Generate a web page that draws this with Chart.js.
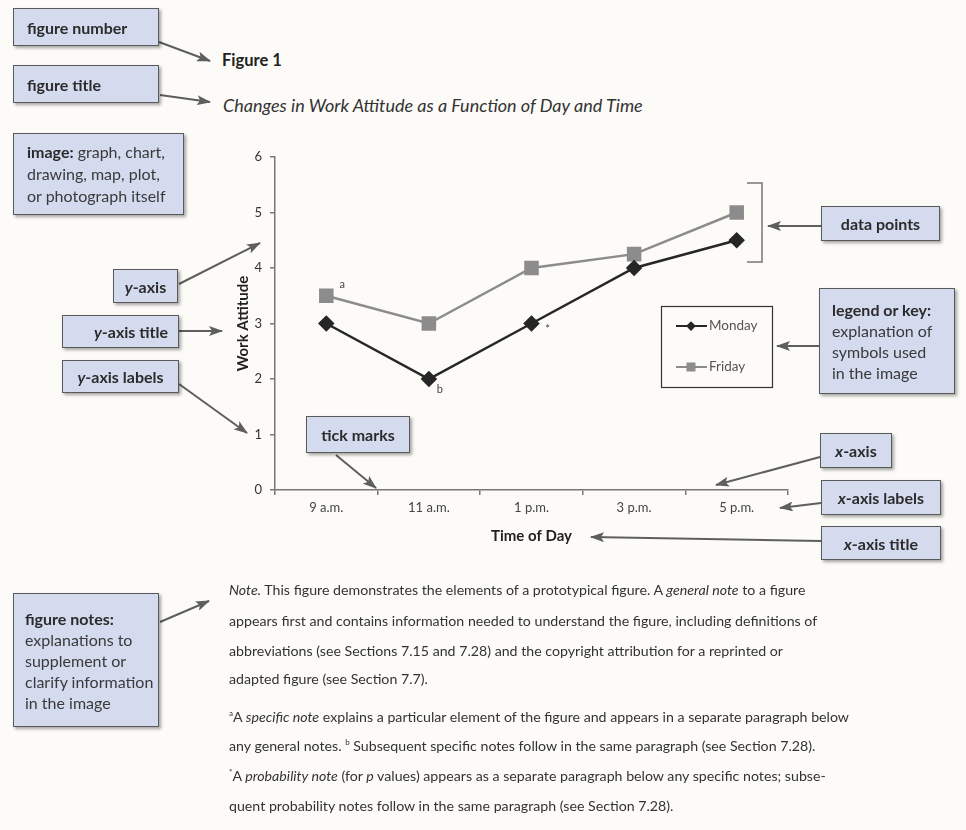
<!DOCTYPE html>
<html>
<head>
<meta charset="utf-8">
<script src="https://cdn.jsdelivr.net/npm/chart.js@4.4.1/dist/chart.umd.min.js"></script>
<style>
html, body { margin: 0; padding: 0; }
body {
    width: 966px; height: 830px; position: relative; overflow: hidden;
    background: #fcfbf7; font-family: Lato, "Open Sans", sans-serif; color: #333;
}
.box {
    position: absolute; box-sizing: border-box; background: #d4dbef;
    border: 1.5px solid #5a5a5a; box-shadow: 2px 2px 3px rgba(0,0,0,.35);
    font-size: 16px; line-height: 21px; padding: 0 8px 0 13px; color: #3a3a3a;
    display: flex; flex-direction: column; justify-content: center; white-space: nowrap;
}
.box b { font-weight: 700; color: #2b2b2b; }
.t { position: absolute; white-space: nowrap; }
#chartWrap { position: absolute; left: 200px; top: 140px; width: 600px; height: 420px; }
svg { position: absolute; left: 0; top: 0; }
.note { position: absolute; left: 229px; font-size: 14.2px; white-space: nowrap; color: #333; }
.note sup { font-size: 8px; }
</style>
</head>
<body>

<div class="t" style="left:222px;top:50px;font-size:16.5px;font-weight:700;color:#222;">Figure 1</div>
<div class="t" style="left:223px;top:94px;font-size:18px;font-style:italic;color:#333;">Changes in Work Attitude as a Function of Day and Time</div>

<div id="chartWrap"><canvas id="chart"></canvas></div>

<svg width="966" height="830">
  <defs>
    <marker id="ah" viewBox="0 0 14 10" refX="13" refY="5" markerWidth="14" markerHeight="10" markerUnits="userSpaceOnUse" orient="auto">
      <path d="M0,0 L14,5 L0,10 L3,5 Z" fill="#5e5e5e"/>
    </marker>
  </defs>
  <g stroke="#5e5e5e" stroke-width="2" fill="none" marker-end="url(#ah)">
    <line x1="159" y1="42" x2="210" y2="61"/>
    <line x1="160" y1="95" x2="210" y2="102"/>
    <line x1="179" y1="284" x2="260" y2="243"/>
    <line x1="179" y1="331" x2="222" y2="331"/>
    <line x1="179" y1="384" x2="247" y2="433"/>
    <line x1="336" y1="455" x2="376" y2="488"/>
    <line x1="160" y1="622" x2="209" y2="601"/>
    <line x1="821" y1="226" x2="768" y2="226"/>
    <line x1="819" y1="346" x2="777" y2="346"/>
    <line x1="820" y1="457" x2="716" y2="485"/>
    <line x1="821" y1="503" x2="780" y2="508"/>
    <line x1="821" y1="541" x2="591" y2="537"/>
  </g>
  <path d="M747,183 H762 V262 H747" stroke="#777" stroke-width="1.5" fill="none"/>
</svg>

<div class="box" style="left:13px;top:8px;width:146px;height:38px;"><b>figure number</b></div>
<div class="box" style="left:13px;top:65px;width:146px;height:38px;"><b>figure title</b></div>
<div class="box" style="left:13px;top:133px;width:171px;height:82px;line-height:22px;">
  <div><b>image:</b> graph, chart,</div><div>drawing, map, plot,</div><div>or photograph itself</div>
</div>
<div class="box" style="left:113px;top:269px;width:65px;height:34px;align-items:center;padding:0;"><b><i>y</i>-axis</b></div>
<div class="box" style="left:62px;top:315px;width:117px;height:33px;align-items:flex-end;padding-right:10px;"><b><i>y</i>-axis title</b></div>
<div class="box" style="left:62px;top:360px;width:117px;height:33px;align-items:center;padding:0;"><b><i>y</i>-axis labels</b></div>
<div class="box" style="left:306px;top:416px;width:104px;height:37px;align-items:center;padding:0;"><b>tick marks</b></div>
<div class="box" style="left:13px;top:593px;width:146px;height:134px;padding-left:11px;">
  <div><b>figure notes:</b></div><div>explanations to</div><div>supplement or</div><div>clarify information</div><div>in the image</div>
</div>
<div class="box" style="left:821px;top:206px;width:119px;height:35px;align-items:center;padding:0;"><b>data points</b></div>
<div class="box" style="left:819px;top:288px;width:136px;height:106px;padding-left:12px;">
  <div><b>legend or key:</b></div><div>explanation of</div><div>symbols used</div><div>in the image</div>
</div>
<div class="box" style="left:820px;top:433px;width:72px;height:35px;align-items:center;padding:0;"><b><i>x</i>-axis</b></div>
<div class="box" style="left:821px;top:480px;width:120px;height:35px;align-items:center;padding:0;"><b><i>x</i>-axis labels</b></div>
<div class="box" style="left:821px;top:526px;width:120px;height:34px;align-items:center;padding:0;"><b><i>x</i>-axis title</b></div>

<div class="note" style="top:581px;"><i>Note.</i> This figure demonstrates the elements of a prototypical figure. A <i>general note</i> to a figure</div>
<div class="note" style="top:612px;">appears first and contains information needed to understand the figure, including definitions of</div>
<div class="note" style="top:642px;">abbreviations (see Sections 7.15 and 7.28) and the copyright attribution for a reprinted or</div>
<div class="note" style="top:670px;">adapted figure (see Section 7.7).</div>
<div class="note" style="top:708px;"><sup>a</sup>A <i>specific note</i> explains a particular element of the figure and appears in a separate paragraph below</div>
<div class="note" style="top:737px;">any general notes. <sup>b</sup> Subsequent specific notes follow in the same paragraph (see Section 7.28).</div>
<div class="note" style="top:767px;"><sup>*</sup>A <i>probability note</i> (for <i>p</i> values) appears as a separate paragraph below any specific notes; subse-</div>
<div class="note" style="top:797px;">quent probability notes follow in the same paragraph (see Section 7.28).</div>

<script>
const timeLabels = ['9 a.m.', '11 a.m.', '1 p.m.', '3 p.m.', '5 p.m.'];
const mondayValues = [3, 2, 3, 4, 4.5];
const fridayValues = [3.5, 3, 4, 4.25, 5];
const yTicks = [0, 1, 2, 3, 4, 5, 6];
const seriesNames = ['Monday', 'Friday'];
// superscript marks next to single points
const pointNotes = [
    { series: 1, index: 0, text: 'a' },
    { series: 0, index: 1, text: 'b' },
    { series: 0, index: 2, text: '*' }
];

const noteOffsets = { a: [16, -11], b: [11, 10], '*': [16, 6] };

function drawMarker(ctx, style, x, y, r) {
    ctx.beginPath();
    if (style === 'rectRot') {
        ctx.moveTo(x - r, y);
        ctx.lineTo(x, y - r);
        ctx.lineTo(x + r, y);
        ctx.lineTo(x, y + r);
    } else {
        const s = r * Math.SQRT1_2;
        ctx.rect(x - s, y - s, 2 * s, 2 * s);
    }
    ctx.closePath();
    ctx.fill();
}

const notesPlugin = {
    id: 'pointNotes',
    afterDatasetsDraw(chart) {
        const ctx = chart.ctx;
        ctx.save();
        ctx.font = '11px Lato';
        ctx.fillStyle = '#444';
        ctx.textAlign = 'center';
        ctx.textBaseline = 'middle';
        pointNotes.forEach(n => {
            const pt = chart.getDatasetMeta(n.series).data[n.index];
            const off = noteOffsets[n.text];
            ctx.fillText(n.text, pt.x + off[0], pt.y + off[1]);
        });
        ctx.restore();
    }
};

const boxLegend = {
    id: 'boxLegend',
    afterDraw(chart) {
        const ctx = chart.ctx;
        const x = 461, y = 166, w = 111, h = 81;
        ctx.save();
        ctx.strokeStyle = '#333';
        ctx.lineWidth = 1.2;
        ctx.strokeRect(x + 0.5, y + 0.5, w, h);
        ctx.font = '13.5px Lato';
        ctx.textBaseline = 'middle';
        chart.data.datasets.forEach((ds, i) => {
            const cy = y + 20 + i * 41;
            ctx.strokeStyle = ds.borderColor;
            ctx.lineWidth = 2;
            ctx.beginPath();
            ctx.moveTo(x + 15, cy);
            ctx.lineTo(x + 46, cy);
            ctx.stroke();
            ctx.fillStyle = ds.borderColor;
            drawMarker(ctx, ds.pointStyle, x + 30, cy, ds.pointRadius * 0.75);
            ctx.fillStyle = '#555';
            ctx.fillText(ds.label, x + 48, cy);
        });
        ctx.restore();
    }
};

new Chart(document.getElementById('chart'), {
    type: 'line',
    data: {
        labels: timeLabels,
        datasets: [{
            label: seriesNames[0],
            data: mondayValues,
            borderColor: '#262626',
            backgroundColor: '#262626',
            pointBackgroundColor: '#262626',
            pointBorderColor: '#262626',
            pointStyle: 'rectRot',
            pointRadius: 6.5,
            borderWidth: 2.5,
            tension: 0
        }, {
            label: seriesNames[1],
            data: fridayValues,
            borderColor: '#8c8c8c',
            backgroundColor: '#8c8c8c',
            pointBackgroundColor: '#8c8c8c',
            pointBorderColor: '#8c8c8c',
            pointStyle: 'rect',
            pointRadius: 8.5,
            borderWidth: 2.5,
            tension: 0
        }]
    },
    options: {
        responsive: true,
        maintainAspectRatio: false,
        animation: false,
        layout: { padding: { left: 30, top: 17, right: 12, bottom: 0 } },
        plugins: {
            legend: { display: false },
            tooltip: { enabled: false }
        },
        scales: {
            x: {
                offset: true,
                grid: { offset: true, drawOnChartArea: false, tickLength: 5, color: '#777', lineWidth: 1.5 },
                border: { color: '#777', width: 1.5 },
                ticks: { color: '#444', font: { family: 'Lato', size: 13 }, padding: 5 },
                title: {
                    display: true, text: 'Time of Day', color: '#222',
                    font: { family: 'Lato', size: 15, weight: 'bold' },
                    padding: { top: 0, bottom: 15 }
                },
                afterFit: s => { s.height = 70; }
            },
            y: {
                min: 0,
                max: 6,
                afterBuildTicks: s => { s.ticks = yTicks.map(v => ({ value: v })); },
                grid: { drawOnChartArea: false, tickLength: 5, color: '#777', lineWidth: 1.5 },
                border: { color: '#777', width: 1.5 },
                ticks: { color: '#333', font: { family: 'Lato', size: 13 }, padding: 8 },
                title: {
                    display: true, text: 'Work Attitude', color: '#222',
                    font: { family: 'Lato', size: 15, weight: 'bold' },
                    padding: { top: 4, bottom: 0 }
                },
                afterFit: s => { s.width = 45; }
            }
        }
    },
    plugins: [notesPlugin, boxLegend]
});
</script>
</body>
</html>
